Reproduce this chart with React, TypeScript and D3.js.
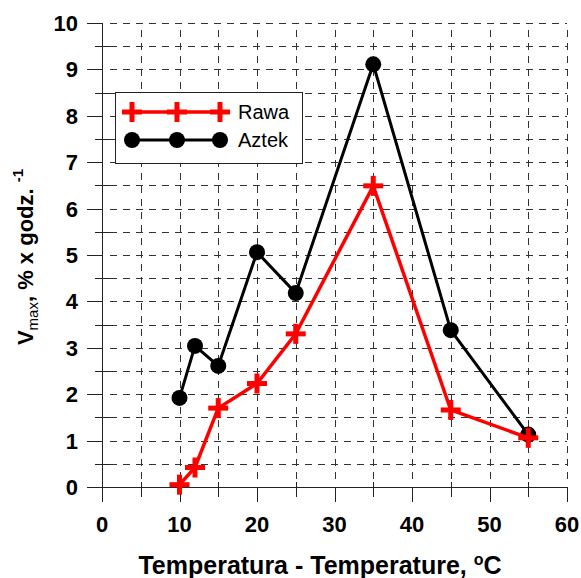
import React, { useRef, useEffect } from 'react';
import * as d3 from 'd3';

// temperatury pomiaru
const temps = [10, 12, 15, 20, 25, 35, 45, 55];
// Vmax dla odmian
const rawa = [0.05, 0.42, 1.7, 2.23, 3.3, 6.49, 1.66, 1.06];
const aztek = [1.92, 3.04, 2.61, 5.06, 4.18, 9.11, 3.38, 1.13];

const xTicks = [0, 10, 20, 30, 40, 50, 60];
const yTicks = [0, 1, 2, 3, 4, 5, 6, 7, 8, 9, 10];
const seriesNames = ['Rawa', 'Aztek'];

const App = () => {
  const svgRef = useRef<SVGSVGElement>(null);

  useEffect(() => {
    const width = 581;
    const height = 578;
    const svg = d3.select(svgRef.current).attr('width', width).attr('height', height);
    svg.selectAll('*').remove();

    const x = d3.scaleLinear().domain([0, 60]).range([102, 567]);
    const y = d3.scaleLinear().domain([0, 10]).range([487, 23]);
    const font = 'Liberation Sans, Arial, sans-serif';

    // siatka przerywana
    const grid = svg.append('g').attr('stroke', '#333').attr('stroke-width', 1)
      .attr('stroke-dasharray', '7,6');
    d3.range(0.5, 10.01, 0.5).forEach(v => {
      grid.append('line').attr('x1', 110).attr('x2', 567)
        .attr('y1', Math.round(y(v)) + 0.5).attr('y2', Math.round(y(v)) + 0.5);
    });
    d3.range(5, 60.01, 5).forEach(v => {
      grid.append('line').attr('x1', Math.round(x(v)) + 0.5).attr('x2', Math.round(x(v)) + 0.5)
        .attr('y1', 30).attr('y2', 480);
    });

    // osie
    const axes = svg.append('g').attr('stroke', '#222').attr('stroke-width', 1);
    axes.append('line').attr('x1', 102.5).attr('x2', 102.5).attr('y1', y(10)).attr('y2', y(0));
    axes.append('line').attr('x1', 102).attr('x2', 567).attr('y1', 487.5).attr('y2', 487.5);
    yTicks.forEach(v => {
      const yy = Math.round(y(v)) + 0.5;
      axes.append('line').attr('x1', 87).attr('x2', 102).attr('y1', yy).attr('y2', yy);
    });
    d3.range(0.5, 10, 1).forEach(v => {
      const yy = Math.round(y(v)) + 0.5;
      axes.append('line').attr('x1', 95).attr('x2', 110).attr('y1', yy).attr('y2', yy);
    });
    xTicks.forEach(v => {
      const xx = Math.round(x(v)) + 0.5;
      axes.append('line').attr('x1', xx).attr('x2', xx).attr('y1', 487).attr('y2', 502);
    });
    d3.range(5, 60, 10).forEach(v => {
      const xx = Math.round(x(v)) + 0.5;
      axes.append('line').attr('x1', xx).attr('x2', xx).attr('y1', 482).attr('y2', 497);
    });

    // etykiety
    svg.append('g').selectAll('text').data(yTicks).join('text')
      .attr('x', 78).attr('y', d => y(d)).attr('dy', '0.36em')
      .attr('text-anchor', 'end').attr('font-family', font).attr('font-weight', 'bold')
      .attr('font-size', 22).text(d => d);
    svg.append('g').selectAll('text').data(xTicks).join('text')
      .attr('x', d => x(d)).attr('y', 532)
      .attr('text-anchor', 'middle').attr('font-family', font).attr('font-weight', 'bold')
      .attr('font-size', 22).text(d => d);

    const xt = svg.append('text').attr('x', 320).attr('y', 574).attr('text-anchor', 'middle')
      .attr('font-family', font).attr('font-weight', 'bold').attr('font-size', 25);
    xt.append('tspan').text('Temperatura - Temperature, ');
    xt.append('tspan').attr('font-size', 16).attr('dy', -9).text('o');
    xt.append('tspan').attr('dy', 9).text('C');

    const yt = svg.append('text').attr('transform', 'translate(33,257) rotate(-90)')
      .attr('text-anchor', 'middle').attr('font-family', font).attr('font-weight', 'bold')
      .attr('font-size', 22);
    yt.append('tspan').text('V');
    yt.append('tspan').attr('font-size', 15).attr('font-weight', 'normal').attr('dy', 5).text('max');
    yt.append('tspan').attr('dy', -5).text(', % x godz. ');
    yt.append('tspan').attr('font-size', 15).attr('dy', -10).text('-1');

    const plus = (g: any, cx: number, cy: number) => {
      g.append('rect').attr('x', cx - 10).attr('y', cy - 2.5).attr('width', 20).attr('height', 5).attr('fill', '#ff0000');
      g.append('rect').attr('x', cx - 2.5).attr('y', cy - 10).attr('width', 5).attr('height', 20).attr('fill', '#ff0000');
    };

    const line = d3.line<number>().x((d, i) => x(temps[i])).y(d => y(d));

    // Aztek
    svg.append('path').datum(aztek).attr('d', line).attr('fill', 'none')
      .attr('stroke', '#000').attr('stroke-width', 3);
    svg.append('g').selectAll('circle').data(aztek).join('circle')
      .attr('cx', (d, i) => x(temps[i])).attr('cy', d => y(d)).attr('r', 8).attr('fill', '#000');

    // Rawa
    svg.append('path').datum(rawa).attr('d', line).attr('fill', 'none')
      .attr('stroke', '#ff0000').attr('stroke-width', 3.5);
    const rg = svg.append('g');
    rawa.forEach((d, i) => plus(rg, x(temps[i]), y(d)));

    // legenda
    const lg = svg.append('g');
    lg.append('rect').attr('x', 115.5).attr('y', 92.5).attr('width', 187).attr('height', 71)
      .attr('fill', '#fff').attr('stroke', '#222').attr('stroke-width', 1);
    const lx = [132, 177, 220];
    lg.append('line').attr('x1', 132).attr('x2', 220).attr('y1', 112).attr('y2', 112)
      .attr('stroke', '#ff0000').attr('stroke-width', 3.5);
    lx.forEach(v => plus(lg, v, 112));
    lg.append('line').attr('x1', 132).attr('x2', 220).attr('y1', 140).attr('y2', 140)
      .attr('stroke', '#000').attr('stroke-width', 3);
    lx.forEach(v => lg.append('circle').attr('cx', v).attr('cy', 140).attr('r', 8).attr('fill', '#000'));
    seriesNames.forEach((n, i) => {
      lg.append('text').attr('x', 238).attr('y', 112 + i * 28).attr('dy', '0.36em')
        .attr('font-family', font).attr('font-size', 20).text(n);
    });
  }, []);

  return <svg ref={svgRef} style={{ position: 'absolute', left: 0, top: 0, background: '#fff' }}></svg>;
};

export default App;
